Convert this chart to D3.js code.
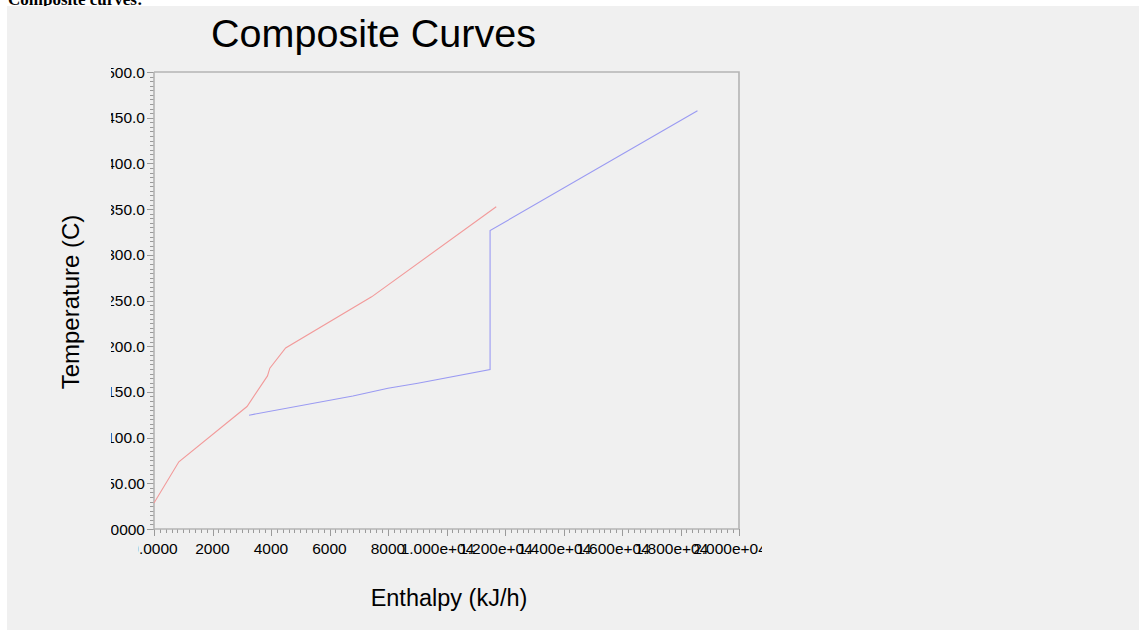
<!DOCTYPE html>
<html>
<head>
<meta charset="utf-8">
<script src="https://cdn.jsdelivr.net/npm/d3@7"></script>
<style>
  body { margin: 0; background: #ffffff; }
  svg { display: block; }
</style>
</head>
<body>
<svg id="chart" width="1139" height="630"></svg>
<script>
// Hot composite curve (enthalpy kJ/h, temperature C)
const hotEnthalpy = [0, 850, 3180, 3880, 3960, 4500, 7440, 11700];
const hotTemp     = [28.5, 73.5, 134, 167.5, 176, 198, 254, 352.5];

// Cold composite curve
const coldEnthalpy = [3250, 6800, 8000, 9020, 11490, 11490, 18580];
const coldTemp     = [124.5, 145.5, 154, 159.5, 174.5, 326.5, 457.5];

// Axis ticks and their printed labels
const xTicks = [0, 2000, 4000, 6000, 8000, 10000, 12000, 14000, 16000, 18000, 20000];
const xTickLabels = ["0.0000", "2000", "4000", "6000", "8000", "1.000e+04", "1.200e+04",
                     "1.400e+04", "1.600e+04", "1.800e+04", "2.000e+04"];
const yTicks = [0, 50, 100, 150, 200, 250, 300, 350, 400, 450, 500];
const yTickLabels = ["0.0000", "50.00", "100.0", "150.0", "200.0", "250.0", "300.0",
                     "350.0", "400.0", "450.0", "500.0"];

const svg = d3.select("#chart");
const W = 1139, H = 630;
const plot = { left: 154, right: 739, top: 72, bottom: 529 };
const axisColor = "#b4b4b4";
const tickColor = "#9a9a9a";
const font = "Arial, 'Liberation Sans', sans-serif";

// Page heading, mostly scrolled off the top
svg.append("text")
  .attr("x", 8).attr("y", 5)
  .attr("font-family", "'Liberation Serif', 'Times New Roman', serif")
  .attr("font-weight", "bold")
  .attr("font-size", 17)
  .attr("fill", "#000")
  .text("Composite curves:");

// Chart panel
svg.append("rect")
  .attr("x", 7).attr("y", 6)
  .attr("width", W - 7).attr("height", H - 6)
  .attr("fill", "#f0f0f0");

const x = d3.scaleLinear().domain([0, 20000]).range([plot.left, plot.right]);
const y = d3.scaleLinear().domain([0, 500]).range([plot.bottom, plot.top]);

const defs = svg.append("defs");
defs.append("clipPath").attr("id", "ylab-clip")
  .append("rect").attr("x", 111).attr("y", 0).attr("width", 60).attr("height", H);
defs.append("clipPath").attr("id", "xlab-clip")
  .append("rect").attr("x", 138.5).attr("y", plot.bottom).attr("width", 762 - 138.5).attr("height", 40);

// Title
svg.append("text")
  .attr("x", 373.5).attr("y", 47)
  .attr("text-anchor", "middle")
  .attr("font-family", font)
  .attr("font-size", 39.5)
  .attr("fill", "#000")
  .text("Composite Curves");

// Frame: top and right edges
svg.append("path")
  .attr("d", `M${plot.left},${plot.top}H${plot.right}V${plot.bottom}`)
  .attr("fill", "none").attr("stroke", axisColor).attr("stroke-width", 1.6);

// Minor ticks
const yMinor = d3.range(0, 501, 5);
svg.append("g").selectAll("line").data(yMinor).join("line")
  .attr("x1", d => d % 50 === 0 ? plot.left - 7 : plot.left - 4)
  .attr("x2", plot.left)
  .attr("y1", d => Math.round(y(d)) + 0.5)
  .attr("y2", d => Math.round(y(d)) + 0.5)
  .attr("stroke", tickColor).attr("stroke-width", 1);

const xMinor = d3.range(0, 20001, 200);
svg.append("g").selectAll("line").data(xMinor).join("line")
  .attr("y1", plot.bottom)
  .attr("y2", d => d % 2000 === 0 ? plot.bottom + 7 : plot.bottom + 4)
  .attr("x1", d => Math.round(x(d)) + 0.5)
  .attr("x2", d => Math.round(x(d)) + 0.5)
  .attr("stroke", tickColor).attr("stroke-width", 1);

// Axis lines
svg.append("path")
  .attr("d", `M${plot.left},${plot.top}V${plot.bottom}H${plot.right}`)
  .attr("fill", "none").attr("stroke", axisColor).attr("stroke-width", 1.6);

// Tick labels
svg.append("g").attr("clip-path", "url(#ylab-clip)")
  .selectAll("text").data(yTicks).join("text")
  .attr("x", 145)
  .attr("y", d => y(d) + 5.5)
  .attr("text-anchor", "end")
  .attr("font-family", font).attr("font-size", 15.5).attr("fill", "#000")
  .text((d, i) => yTickLabels[i]);

// Exponent-style labels sit a little left of their tick
svg.append("g").attr("clip-path", "url(#xlab-clip)")
  .selectAll("text").data(xTicks).join("text")
  .attr("x", d => x(d))
  .attr("dx", (d, i) => xTickLabels[i].includes("e") ? -9 : 0)
  .attr("y", 554)
  .attr("text-anchor", "middle")
  .attr("font-family", font).attr("font-size", 15.5).attr("fill", "#000")
  .text((d, i) => xTickLabels[i]);

// Axis titles
svg.append("text")
  .attr("transform", "translate(79,302) rotate(-90)")
  .attr("text-anchor", "middle")
  .attr("font-family", font).attr("font-size", 24).attr("fill", "#000")
  .text("Temperature (C)");

svg.append("text")
  .attr("x", 449).attr("y", 606)
  .attr("text-anchor", "middle")
  .attr("font-family", font).attr("font-size", 23.5).attr("fill", "#000")
  .text("Enthalpy (kJ/h)");

// Curves
const line = d3.line().x(d => x(d[0])).y(d => y(d[1]));
const hot = hotEnthalpy.map((h, i) => [h, hotTemp[i]]);
const cold = coldEnthalpy.map((h, i) => [h, coldTemp[i]]);

svg.append("path").datum(hot)
  .attr("d", line)
  .attr("fill", "none").attr("stroke", "#f29a9a").attr("stroke-width", 1.1);

svg.append("path").datum(cold)
  .attr("d", line)
  .attr("fill", "none").attr("stroke", "#9a9af2").attr("stroke-width", 1.1);
</script>
</body>
</html>
